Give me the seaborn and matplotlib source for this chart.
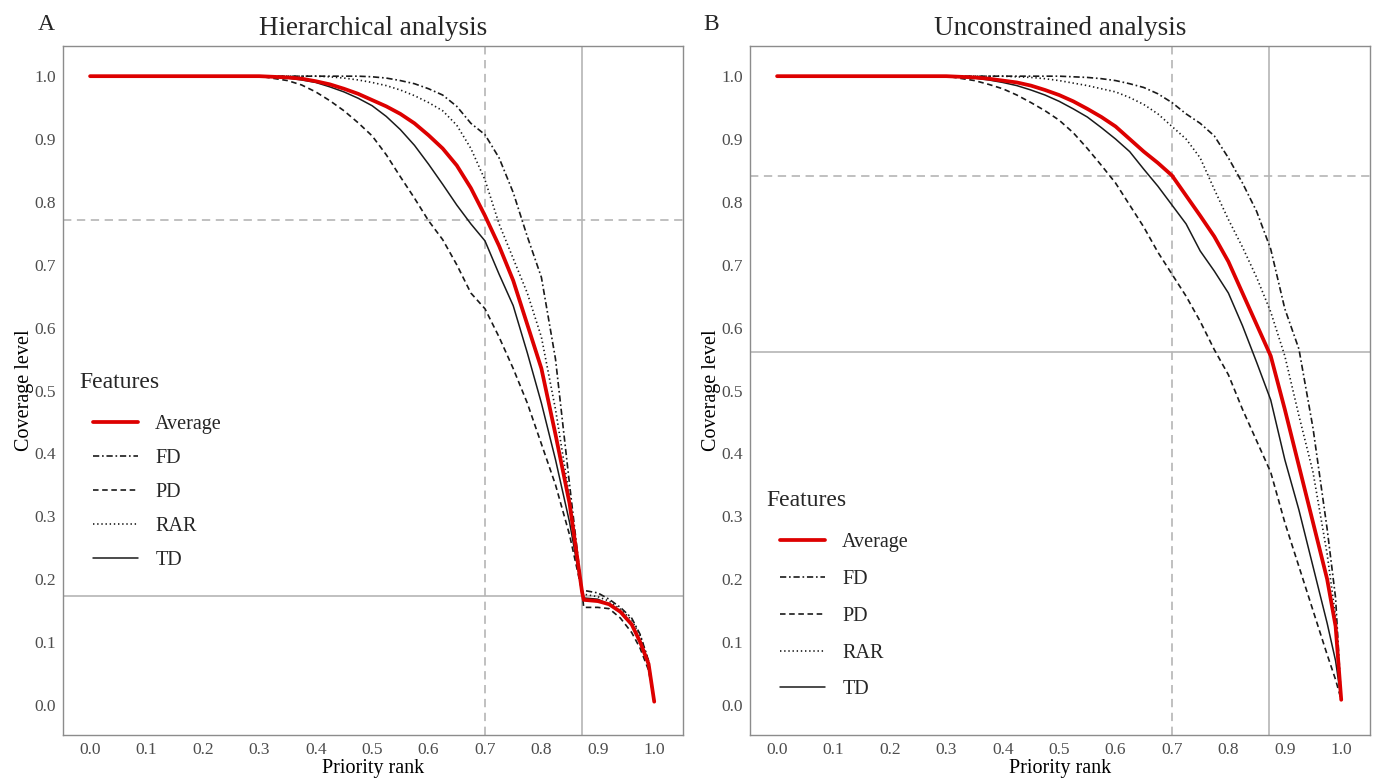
import matplotlib
matplotlib.use("Agg")
import matplotlib.pyplot as plt
import seaborn as sns
import pandas as pd

# ---------------- data ----------------
series_names = ["Average", "FD", "PD", "RAR", "TD"]

x_A = [0.0, 0.30, 0.35, 0.375, 0.40, 0.425, 0.45, 0.475, 0.50, 0.525, 0.55, 0.575, 0.60,
       0.625, 0.65, 0.675, 0.70, 0.725, 0.75, 0.775, 0.80, 0.825, 0.85, 0.872,
       0.875, 0.90, 0.92, 0.94, 0.96, 0.975, 0.99, 1.0]
avg_A = [1.0, 1.0, 0.998, 0.996, 0.992, 0.987, 0.980, 0.972, 0.962, 0.952, 0.940, 0.925, 0.906,
         0.885, 0.858, 0.822, 0.778, 0.730, 0.675, 0.605, 0.535, 0.430, 0.320, 0.180,
         0.167, 0.165, 0.160, 0.148, 0.128, 0.100, 0.065, 0.005]
fd_A = [1.0, 1.0, 1.0, 1.0, 1.0, 1.0, 1.0, 1.0, 0.999, 0.997, 0.993, 0.988, 0.980,
        0.970, 0.952, 0.925, 0.907, 0.870, 0.815, 0.745, 0.680, 0.550, 0.350, 0.180,
        0.182, 0.178, 0.168, 0.155, 0.138, 0.112, 0.070, 0.005]
pd_A = [1.0, 1.0, 0.993, 0.986, 0.975, 0.961, 0.945, 0.926, 0.905, 0.875, 0.840, 0.806, 0.770,
        0.740, 0.700, 0.655, 0.630, 0.585, 0.535, 0.480, 0.415, 0.350, 0.270, 0.180,
        0.155, 0.155, 0.153, 0.138, 0.115, 0.090, 0.055, 0.005]
rar_A = [1.0, 1.0, 1.0, 1.0, 1.0, 0.999, 0.997, 0.994, 0.990, 0.985, 0.978, 0.969, 0.958,
         0.945, 0.922, 0.885, 0.835, 0.765, 0.710, 0.655, 0.585, 0.470, 0.330, 0.180,
         0.176, 0.172, 0.165, 0.152, 0.135, 0.110, 0.070, 0.005]
td_A = [1.0, 1.0, 0.997, 0.994, 0.990, 0.983, 0.975, 0.965, 0.953, 0.936, 0.915, 0.890, 0.860,
        0.828, 0.795, 0.765, 0.738, 0.685, 0.635, 0.560, 0.480, 0.390, 0.290, 0.180,
        0.170, 0.168, 0.160, 0.147, 0.127, 0.100, 0.062, 0.005]

x_B = [0.0, 0.30, 0.35, 0.375, 0.40, 0.425, 0.45, 0.475, 0.50, 0.525, 0.55, 0.575, 0.60,
       0.625, 0.65, 0.675, 0.70, 0.725, 0.75, 0.775, 0.80, 0.825, 0.85, 0.875, 0.90,
       0.925, 0.95, 0.975, 0.99, 1.0]
avg_B = [1.0, 1.0, 0.998, 0.996, 0.993, 0.990, 0.985, 0.978, 0.970, 0.960, 0.948, 0.935, 0.920,
         0.900, 0.880, 0.862, 0.842, 0.810, 0.778, 0.745, 0.705, 0.655, 0.605, 0.555, 0.470,
         0.380, 0.290, 0.200, 0.125, 0.008]
fd_B = [1.0, 1.0, 1.0, 1.0, 1.0, 1.0, 1.0, 1.0, 1.0, 0.999, 0.998, 0.996, 0.993,
        0.988, 0.982, 0.972, 0.958, 0.940, 0.925, 0.905, 0.870, 0.830, 0.785, 0.725, 0.630,
        0.566, 0.440, 0.280, 0.170, 0.010]
pd_B = [1.0, 1.0, 0.993, 0.987, 0.980, 0.970, 0.958, 0.945, 0.930, 0.910, 0.885, 0.858, 0.830,
        0.795, 0.760, 0.720, 0.685, 0.650, 0.610, 0.565, 0.525, 0.470, 0.420, 0.370, 0.290,
        0.220, 0.150, 0.080, 0.040, 0.008]
rar_B = [1.0, 1.0, 1.0, 1.0, 1.0, 0.999, 0.998, 0.996, 0.993, 0.989, 0.985, 0.980, 0.975,
         0.966, 0.955, 0.940, 0.920, 0.900, 0.870, 0.820, 0.772, 0.728, 0.680, 0.625, 0.555,
         0.460, 0.370, 0.240, 0.140, 0.010]
td_B = [1.0, 1.0, 0.997, 0.994, 0.990, 0.985, 0.978, 0.970, 0.960, 0.948, 0.935, 0.918, 0.900,
        0.880, 0.852, 0.825, 0.795, 0.765, 0.722, 0.690, 0.655, 0.603, 0.545, 0.485, 0.390,
        0.310, 0.220, 0.130, 0.070, 0.008]

# reference lines: (vertical dashed, vertical solid, horizontal dashed, horizontal solid)
ref_A = [0.70, 0.872, 0.771, 0.173]
ref_B = [0.70, 0.872, 0.842, 0.561]

ticks = [0.0, 0.1, 0.2, 0.3, 0.4, 0.5, 0.6, 0.7, 0.8, 0.9, 1.0]
tick_labels = ["0.0", "0.1", "0.2", "0.3", "0.4", "0.5", "0.6", "0.7", "0.8", "0.9", "1.0"]

titles = ["Hierarchical analysis", "Unconstrained analysis"]
panel_letters = ["A", "B"]
legend_title = "Features"

# ---------------- style ----------------
sns.set_theme(style="white")
plt.rcParams["font.family"] = ["Liberation Serif", "DejaVu Serif"]
plt.rcParams["lines.scale_dashes"] = False

styles = {
    "Average": dict(color="#dd0000", lw=2.7, ls="-", z=5),
    "FD": dict(color="#1a1a1a", lw=1.2, ls=(0, (4.5, 2, 1.2, 2)), z=3),
    "PD": dict(color="#1a1a1a", lw=1.2, ls=(0, (4, 2.6)), z=3),
    "RAR": dict(color="#1a1a1a", lw=1.2, ls=(0, (1, 2)), z=3),
    "TD": dict(color="#1a1a1a", lw=1.1, ls="-", z=4),
}

W, H = 1373, 782
fig = plt.figure(figsize=(W / 100, H / 100), dpi=100)
axA = fig.add_axes([63 / W, 1 - 735 / H, 620 / W, 689 / H])
axB = fig.add_axes([750 / W, 1 - 735 / H, 620 / W, 689 / H])

# (axes, x, series, refs, legend top, legend label spacing, "Features" y)
panels = [
    (axA, x_A, [avg_A, fd_A, pd_A, rar_A, td_A], ref_A, (735 - 415) / 689, 0.74, (735 - 383) / 689),
    (axB, x_B, [avg_B, fd_B, pd_B, rar_B, td_B], ref_B, (735 - 533) / 689, 0.88, (735 - 500) / 689),
]

ref_color = "#b5b5b5"
for i, (ax, xs, ys, ref, leg_y, lsp, ty) in enumerate(panels):
    vd, vs, hd, hs = ref
    ax.axvline(vd, color=ref_color, lw=1.2, ls=(0, (6, 4)), zorder=1)
    ax.axvline(vs, color=ref_color, lw=1.2, ls="-", zorder=1)
    ax.axhline(hd, color=ref_color, lw=1.2, ls=(0, (6, 4)), zorder=1)
    ax.axhline(hs, color=ref_color, lw=1.2, ls="-", zorder=1)

    for name, yv in zip(series_names, ys):
        st = styles[name]
        df = pd.DataFrame({"x": xs, "y": yv})
        sns.lineplot(data=df, x="x", y="y", ax=ax, color=st["color"], linewidth=st["lw"],
                     linestyle=st["ls"], label=name, zorder=st["z"], sort=False,
                     estimator=None)

    ax.set_xlim(-0.048, 1.051)
    ax.set_ylim(-0.048, 1.048)
    ax.set_xticks(ticks)
    ax.set_xticklabels(tick_labels)
    ax.set_yticks(ticks)
    ax.set_yticklabels(tick_labels)
    ax.tick_params(axis="both", length=0, labelsize=12.5, labelcolor="#4d4d4d")
    ax.tick_params(axis="x", pad=5)
    ax.tick_params(axis="y", pad=5)
    for sp in ax.spines.values():
        sp.set_color("#8c8c8c")
        sp.set_linewidth(1.0)
    ax.grid(False)

    ax.set_xlabel("Priority rank", fontsize=14.5, color="black")
    ax.set_ylabel("Coverage level", fontsize=14.5, color="black")
    ax.xaxis.set_label_coords(0.5, -0.035)
    ax.yaxis.set_label_coords(-0.047, 0.5)
    ax.set_title(titles[i], fontsize=19.5, pad=8)

    ax.legend(loc="upper left", bbox_to_anchor=(0.048, leg_y),
              frameon=False, fontsize=14.5, borderaxespad=0,
              borderpad=0, handlelength=2.25, handletextpad=0.85,
              labelspacing=lsp)
    ax.text(0.027, ty, legend_title, transform=ax.transAxes, fontsize=17,
            ha="left", va="center")

fig.text(38 / W, 1 - 25 / H, panel_letters[0], fontsize=17, va="center", ha="left")
fig.text(703 / W, 1 - 25 / H, panel_letters[1], fontsize=17, va="center", ha="left")

fig.savefig("out.png", dpi=100)
